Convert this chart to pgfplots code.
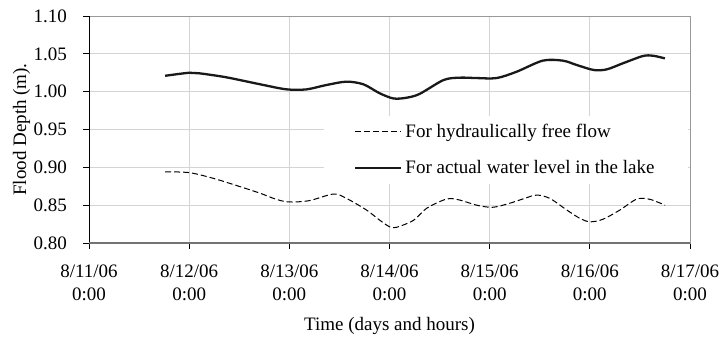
\documentclass[border=0pt]{standalone}
\usepackage{pgfplots}
\pgfplotsset{compat=1.18}
\usepackage{fontspec}
\setmainfont{Liberation Serif}
\begin{document}
\fontsize{19bp}{23bp}\selectfont
\begin{tikzpicture}
\path[use as bounding box] (-89bp,-97bp) rectangle (635bp,243bp);
\begin{axis}[
  at={(0,0)}, anchor=south west,
  scale only axis, width=601bp, height=227bp,
  xmin=0, xmax=6, ymin=0.8, ymax=1.1,
  xtick={0,1,2,3,4,5,6},
  xticklabels={{8/11/06\\0:00},{8/12/06\\0:00},{8/13/06\\0:00},{8/14/06\\0:00},{8/15/06\\0:00},{8/16/06\\0:00},{8/17/06\\0:00}},
  ytick={0.80,0.85,0.90,0.95,1.00,1.05,1.10},
  yticklabel style={/pgf/number format/fixed, /pgf/number format/fixed zerofill, /pgf/number format/precision=2},
  /pgf/number format/assume math mode=true,
  xticklabel style={align=center, anchor=north, inner sep=0pt, yshift=-16bp},
  yticklabel style={anchor=east, inner sep=0pt, xshift=-16bp},
  tick align=outside, major tick length=6bp,
  tick style={black, line width=0.8bp},
  xtick pos=bottom, ytick pos=left,
  grid=major, major grid style={black!17, line width=0.8bp},
  axis line style={black!40, line width=0.8bp},
  every axis x label/.style={at={(rel axis cs:0.5,-0.3833)}, anchor=base},
  every axis y label/.style={at={(rel axis cs:-0.1123,0.5)}, rotate=90, anchor=center},
  xlabel={Time (days and hours)},
  ylabel={Flood Depth (m).},
  legend style={at={(rel axis cs:0.391,0.562)}, anchor=north west, draw=none, fill=white,
    inner xsep=30bp, inner ysep=5bp, row sep=14bp, nodes={inner sep=3bp},
    legend cell align=left},
  legend image code/.code={\draw[#1] (0bp,0bp) -- (46bp,0bp);},
]
\addplot[black, line width=1bp, dash pattern=on 6bp off 3bp, smooth, tension=0.5] coordinates {
(0.76,0.894) (1.00,0.893) (1.24,0.8855) (1.51,0.8744) (1.71,0.8657) (1.87,0.8577)
(2.00,0.8542) (2.20,0.856) (2.44,0.8647) (2.57,0.859) (2.77,0.8436) (2.90,0.8304)
(3.00,0.8215) (3.07,0.8207) (3.24,0.830) (3.37,0.8458) (3.57,0.8581) (3.70,0.8568)
(3.87,0.850) (4.03,0.8472) (4.20,0.8525) (4.37,0.8599) (4.47,0.8634) (4.60,0.859)
(4.77,0.8436) (4.90,0.8326) (5.00,0.828) (5.13,0.8313) (5.30,0.8436) (5.47,0.8581)
(5.60,0.8577) (5.75,0.850)
};
\addlegendentry{For hydraulically free flow}
\addplot[black!90, line width=2.3bp, smooth, tension=0.5] coordinates {
(0.76,1.021) (1.00,1.025) (1.10,1.0243) (1.37,1.019) (1.71,1.0097) (1.97,1.0031)
(2.17,1.003) (2.37,1.0088) (2.57,1.0132) (2.74,1.0097) (2.90,0.998) (3.04,0.991)
(3.17,0.992) (3.30,0.997) (3.54,1.0154) (3.70,1.0185) (3.87,1.018) (4.07,1.018)
(4.27,1.0264) (4.53,1.041) (4.73,1.041) (4.87,1.0352) (5.04,1.0286) (5.17,1.0295)
(5.33,1.0375) (5.53,1.0471) (5.63,1.0475) (5.75,1.044)
};
\addlegendentry{For actual water level in the lake}
\draw[black, line width=0.9bp] (rel axis cs:0,0) -- (rel axis cs:0,1);
\draw[black!55, line width=1.8bp] (rel axis cs:0,0) -- (rel axis cs:1,0);
\end{axis}
\end{tikzpicture}
\end{document}
